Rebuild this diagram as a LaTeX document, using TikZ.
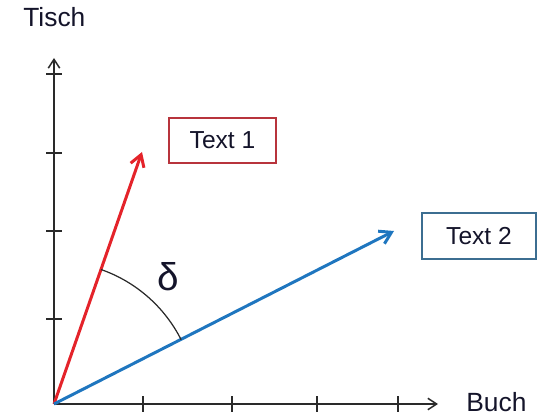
\documentclass[tikz,border=0pt]{standalone}
\usepackage{fontspec}
\setmainfont{Liberation Sans}
\usepackage{xcolor}
\usetikzlibrary{arrows.meta, positioning, calc}
\definecolor{vecred}{HTML}{E4232A}
\definecolor{vecblue}{HTML}{1F76BF}
\definecolor{boxred}{HTML}{B8343C}
\definecolor{boxblue}{HTML}{3C6E91}
\definecolor{axisgray}{HTML}{2A2A2A}
\definecolor{inkdark}{HTML}{14142A}

\begin{document}
\begin{tikzpicture}[
    x=0.02cm, y=0.02cm,
    axis/.style={draw=axisgray, line width=0.85pt, -{Straight Barb[length=5pt, width=6.5pt]}},
    tick/.style={draw=axisgray, line width=0.85pt},
    vec/.style={line width=1.7pt, -{Straight Barb[length=6.5pt, width=8pt]}},
    tag/.style={rectangle, draw, line width=0.85pt, inner sep=0pt, align=center, text=inkdark, font=\fontsize{14}{16}\selectfont},
    axlabel/.style={inner sep=0pt, text=inkdark, font=\fontsize{15}{18}\selectfont}
]
\useasboundingbox (0,0) rectangle (544,416);
\coordinate (O) at (54,12);
\coordinate (ytip) at (54,358);
\coordinate (xtip) at (438,12);
\coordinate (rtip) at (142,264);
\coordinate (btip) at (394,185);
% axes with ticks
\draw[axis] (O) -- (ytip);
\draw[axis] (O) -- (xtip);
\foreach \ty in {97,185,263,342} \draw[tick] (46,\ty) -- (62,\ty);
\foreach \tx in {143,232,317,398} \draw[tick] (\tx,20) -- (\tx,4);
\node[axlabel, anchor=base west] (tisch) at (23,389) {Tisch};
\node[axlabel, anchor=base west] (buch) at (466,5) {Buch};
% vectors and labels
\draw[vec, vecred] (O) -- (rtip);
\draw[vec, vecblue] (O) -- (btip);
\node[tag, draw=boxred, minimum width=2.14cm, minimum height=0.9cm] (text1) at (222.5,275.5) {Text 1};
\node[tag, draw=boxblue, minimum width=2.28cm, minimum height=0.92cm] (text2) at (479,180) {Text 2};
% angle between the vectors
\draw[axisgray, line width=0.7pt] ([shift={(70.7:2.85cm)}]O) arc[start angle=70.7, end angle=26.8, radius=2.85cm];
\node[inner sep=0pt, text=inkdark, font=\fontsize{22}{26}\selectfont] (delta) at (168,139) {δ};
\end{tikzpicture}
\end{document}
